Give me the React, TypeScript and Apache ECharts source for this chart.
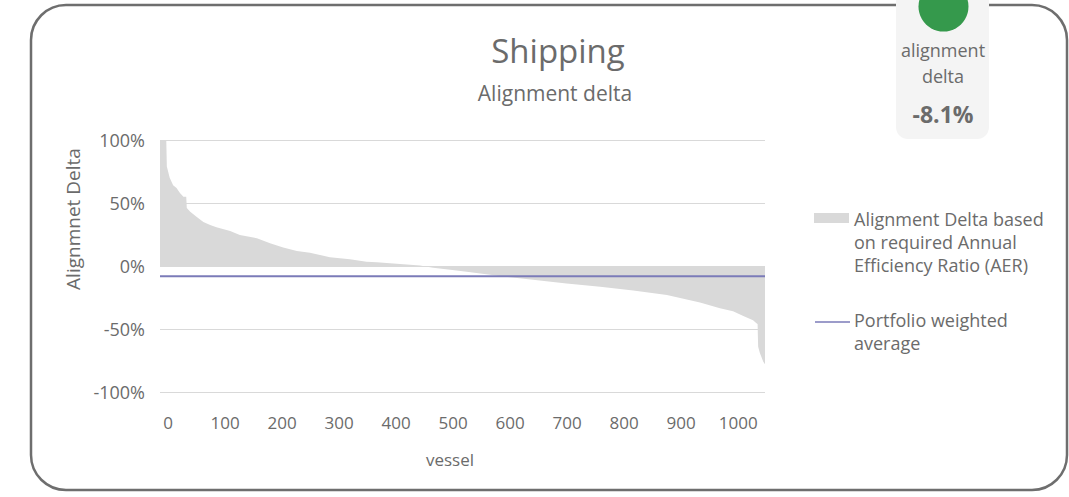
import React, { useEffect, useRef } from "react";
import * as echarts from "echarts";

// Vessel index (sorted by alignment delta) and alignment delta in %
const vessels = [0, 11, 12, 17, 23, 29, 35, 41, 46, 47, 53, 64, 76, 88, 99, 123, 140, 170, 193, 216, 240, 263, 298, 333, 362, 380, 421, 456, 479, 509, 538, 596, 654, 713, 772, 830, 889, 947, 982, 1005, 1023, 1040, 1046, 1048, 1049, 1052, 1058, 1061];
const deltas = [100, 100, 79, 70, 64, 62, 58, 55, 55, 46, 43, 39, 35, 32.5, 30.7, 27.8, 24.6, 22, 18, 14.6, 11.9, 10.6, 6.9, 5.3, 3.4, 3.0, 1.6, 0.3, -1.3, -3, -4.5, -8, -11, -13.8, -16.5, -19.5, -23, -29, -33.6, -36, -39.7, -43, -45.5, -46, -64, -69, -76, -78];
const portfolioAverage = -8.1;
const vesselCount = 1061;
const xTicks = [0, 100, 200, 300, 400, 500, 600, 700, 800, 900, 1000];

const FONT = "Open Sans";
const TEXT = "#6b6b6b";

export default function App() {
  const ref = useRef<HTMLDivElement>(null);
  useEffect(() => {
    if (!ref.current) return;
    const chart = echarts.init(ref.current, null, { renderer: "svg" });
    const areaData = vessels.map((v, i) => [v, deltas[i]]);
    chart.setOption({
      animation: false,
      textStyle: { fontFamily: FONT, color: TEXT },
      grid: { left: 160, right: 304, top: 140, bottom: 105 },
      xAxis: {
        type: "value",
        min: 0,
        max: vesselCount,
        axisLine: { show: false, onZero: false },
        axisTick: { show: false },
        splitLine: { show: false },
        axisLabel: {
          customValues: xTicks,
          formatter: (v: number) => String(v),
          fontFamily: FONT,
          fontSize: 17,
          color: TEXT,
          margin: 22,
          padding: [0, 0, 0, 16],
        },
      },
      yAxis: {
        type: "value",
        min: -100,
        max: 100,
        interval: 50,
        axisLine: { show: false },
        axisTick: { show: false },
        splitLine: { lineStyle: { color: "#d9d9d9", width: 1 } },
        axisLabel: {
          formatter: "{value}%",
          fontFamily: FONT,
          fontSize: 18,
          color: TEXT,
          margin: 15,
        },
      },
      series: [
        {
          name: "Alignment Delta based on required Annual Efficiency Ratio (AER)",
          type: "line",
          data: areaData,
          symbol: "none",
          lineStyle: { width: 0 },
          areaStyle: { color: "#d9d9d9", opacity: 1, origin: 0 },
          z: 2,
        },
        {
          name: "Portfolio weighted average",
          type: "line",
          data: [
            [0, portfolioAverage],
            [vesselCount, portfolioAverage],
          ],
          symbol: "none",
          lineStyle: { color: "#7b7bb8", width: 2 },
          z: 3,
        },
      ],
      graphic: [
        {
          type: "rect",
          shape: { x: 31, y: 5, width: 1036, height: 485, r: 35 },
          style: { fill: "none", stroke: "#6e6e6e", lineWidth: 2.5 },
          z: 1,
        },
        {
          type: "rect",
          shape: { x: 896, y: -20, width: 93, height: 159, r: 12 },
          style: { fill: "#f4f4f4" },
          z: 2,
        },
        {
          type: "circle",
          shape: { cx: 943.5, cy: 6.5, r: 25 },
          style: { fill: "#35994c" },
          z: 3,
        },
        {
          type: "text",
          x: 943,
          y: 50,
          style: { text: "alignment", fontFamily: FONT, fontSize: 18, fill: TEXT, align: "center", verticalAlign: "middle" },
          z: 3,
        },
        {
          type: "text",
          x: 943,
          y: 76,
          style: { text: "delta", fontFamily: FONT, fontSize: 18, fill: TEXT, align: "center", verticalAlign: "middle" },
          z: 3,
        },
        {
          type: "text",
          x: 943,
          y: 114,
          style: { text: "-8.1%", fontFamily: FONT, fontSize: 23, fontWeight: "bold", fill: TEXT, align: "center", verticalAlign: "middle" },
          z: 3,
        },
        {
          type: "text",
          x: 558,
          y: 50,
          style: { text: "Shipping", fontFamily: FONT, fontSize: 33, fill: TEXT, align: "center", verticalAlign: "middle" },
        },
        {
          type: "text",
          x: 555,
          y: 93,
          style: { text: "Alignment delta", fontFamily: FONT, fontSize: 21, fill: TEXT, align: "center", verticalAlign: "middle" },
        },
        {
          type: "text",
          x: 73,
          y: 219,
          rotation: Math.PI / 2,
          style: { text: "Alignmnet Delta", fontFamily: FONT, fontSize: 19, fill: TEXT, align: "center", verticalAlign: "middle" },
        },
        {
          type: "text",
          x: 450,
          y: 459,
          style: { text: "vessel", fontFamily: FONT, fontSize: 17, fill: TEXT, align: "center", verticalAlign: "middle" },
        },
        {
          type: "rect",
          shape: { x: 814, y: 213, width: 35, height: 10 },
          style: { fill: "#d9d9d9" },
        },
        {
          type: "text",
          x: 854,
          y: 207,
          style: {
            text: "Alignment Delta based\non required Annual\nEfficiency Ratio (AER)",
            fontFamily: FONT,
            fontSize: 18,
            lineHeight: 23,
            fill: TEXT,
            align: "left",
            verticalAlign: "top",
          },
        },
        {
          type: "line",
          shape: { x1: 815, y1: 322, x2: 850, y2: 322 },
          style: { stroke: "#7b7bb8", lineWidth: 1.5 },
        },
        {
          type: "text",
          x: 854,
          y: 308,
          style: {
            text: "Portfolio weighted\naverage",
            fontFamily: FONT,
            fontSize: 18,
            lineHeight: 23,
            fill: TEXT,
            align: "left",
            verticalAlign: "top",
          },
        },
      ],
    });
    return () => chart.dispose();
  }, []);
  return (
    <div
      ref={ref}
      style={{ position: "absolute", left: 0, top: 0, width: 1069, height: 497, background: "#fff" }}
    />
  );
}
